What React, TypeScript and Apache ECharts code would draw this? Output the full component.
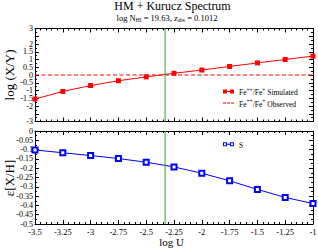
import React, { useEffect, useRef } from "react";
import * as echarts from "echarts";

const logU = [-3.5, -3.25, -3, -2.75, -2.5, -2.25, -2, -1.75, -1.5, -1.25, -1];
const feRatioSim = [-1.55, -1.06, -0.68, -0.37, -0.12, 0.11, 0.32, 0.55, 0.78, 1.0, 1.22];
const feRatioObs = 0;
const sAbund = [-0.102, -0.117, -0.132, -0.148, -0.168, -0.193, -0.227, -0.268, -0.314, -0.357, -0.39];
const logUBest = -2.33;
const topRange = [-3, 3];
const bottomRange = [-0.5, 0];
const titleText = "HM + Kurucz Spectrum";
const nHI = "19.63";
const zAbs = "0.1012";
const simName = "Fe++/Fe+ Simulated";
const obsName = "Fe++/Fe+ Observed";
const sName = "S";

const FONT = "'Liberation Serif', 'Times New Roman', serif";
const GREEN = "#36a336";

export default function App() {
  const ref = useRef<HTMLDivElement>(null);
  useEffect(() => {
    if (!ref.current) return;
    const chart = echarts.init(ref.current, null, { renderer: "svg" });
    const xMin = logU[0];
    const xMax = logU[logU.length - 1];
    const mkX = (grid: number, pos: "top" | "bottom", labels: boolean) => ({
      type: "value",
      gridIndex: grid,
      position: pos,
      min: xMin,
      max: xMax,
      interval: 0.25,
      axisLine: { show: true, onZero: false, lineStyle: { color: "#000", width: 1 } },
      axisTick: { show: true, inside: true, length: 4, lineStyle: { color: "#000" } },
      minorTick: { show: true, splitNumber: 5, length: 2, lineStyle: { color: "#000" } },
      splitLine: { show: false },
      axisLabel: {
        show: labels,
        fontSize: 8.5,
        fontFamily: FONT,
        color: "#000",
        margin: 3,
        showMinLabel: true,
        showMaxLabel: true,
        hideOverlap: false,
      },
    });
    const mkY = (grid: number, pos: "left" | "right", labels: boolean, min: number, max: number, interval: number) => ({
      type: "value",
      gridIndex: grid,
      position: pos,
      min,
      max,
      interval,
      axisLine: { show: true, onZero: false, lineStyle: { color: "#000", width: 1 } },
      axisTick: { show: true, inside: true, length: 4, lineStyle: { color: "#000" } },
      minorTick: { show: true, splitNumber: 2, length: 2, lineStyle: { color: "#000" } },
      splitLine: { show: false },
      axisLabel: {
        show: labels,
        fontSize: 8,
        fontFamily: FONT,
        color: "#000",
        margin: 2,
        showMinLabel: true,
        showMaxLabel: true,
        hideOverlap: false,
      },
    });
    const legendRich = {
      n: { fontSize: 7.5, fontFamily: FONT, color: "#000", lineHeight: 10, verticalAlign: "bottom" },
      sup: { fontSize: 5.5, fontFamily: FONT, color: "#000", lineHeight: 3, verticalAlign: "top" },
    };
    const fmtLegend = (name: string) => {
      const m = name.match(/^Fe\+\+\/Fe\+ (.*)$/);
      if (m) return `{n|Fe}{sup|++}{n|/Fe}{sup|+}{n| ${m[1]}}`;
      return `{n|${name}}`;
    };
    const vLine = (xi: number, yi: number, range: number[]) => ({
      name: "logU-best",
      type: "line",
      xAxisIndex: xi,
      yAxisIndex: yi,
      data: [
        [logUBest, range[0]],
        [logUBest, range[1]],
      ],
      symbol: "none",
      silent: true,
      lineStyle: { color: GREEN, width: 1 },
      itemStyle: { color: GREEN },
      z: 4,
    });
    chart.setOption({
      animation: false,
      backgroundColor: "#fff",
      grid: [
        { left: 35, right: 5, top: 28.5, height: 93, containLabel: false, outerBoundsMode: "none" },
        { left: 35, right: 5, top: 131, height: 93, containLabel: false, outerBoundsMode: "none" },
      ],
      xAxis: [mkX(0, "bottom", false), mkX(0, "top", false), mkX(1, "bottom", true), mkX(1, "top", false)],
      yAxis: [
        mkY(0, "left", true, topRange[0], topRange[1], 0.5),
        mkY(0, "right", false, topRange[0], topRange[1], 0.5),
        mkY(1, "left", true, bottomRange[0], bottomRange[1], 0.05),
        mkY(1, "right", false, bottomRange[0], bottomRange[1], 0.05),
      ],
      legend: [
        {
          orient: "vertical",
          left: 223,
          top: 86.5,
          padding: 0,
          itemGap: 1.6,
          itemWidth: 11,
          itemHeight: 4,
          formatter: fmtLegend,
          textStyle: { rich: legendRich, fontSize: 7.5, fontFamily: FONT },
          data: [
            {
              name: simName,
              icon: "path://M0,0h4v4h-4z M4,1.5h3v1h-3z M7,0h4v4h-4z",
              itemStyle: { color: "#ff0000", borderWidth: 0 },
            },
            {
              name: obsName,
              icon: "path://M0,0 M11,4 M0,1.5h3v1h-3z M4,1.5h3v1h-3z M8,1.5h3v1h-3z",
              itemStyle: { color: "#ff0000", borderWidth: 0 },
            },
          ],
        },
        {
          orient: "vertical",
          left: 223,
          top: 141.3,
          padding: 0,
          itemWidth: 11,
          itemHeight: 4,
          formatter: fmtLegend,
          textStyle: { rich: legendRich, fontSize: 7.5, fontFamily: FONT },
          data: [
            {
              name: sName,
              icon: "path://M0,0h4v4h-4z M1,1v2h2v-2z M4,1.5h3v1h-3z M7,0h4v4h-4z M8,1v2h2v-2z",
              itemStyle: { color: "#0000ff", borderWidth: 0 },
            },
          ],
        },
      ],
      series: [
        {
          name: obsName,
          type: "line",
          xAxisIndex: 0,
          yAxisIndex: 0,
          data: [
            [xMin, feRatioObs],
            [xMax, feRatioObs],
          ],
          symbol: "none",
          lineStyle: { color: "#ff0000", width: 1, type: [4, 2.5] },
          itemStyle: { color: "#ff0000" },
          z: 2,
        },
        vLine(0, 0, topRange),
        vLine(2, 2, bottomRange),
        {
          name: simName,
          type: "line",
          xAxisIndex: 0,
          yAxisIndex: 0,
          data: logU.map((x, i) => [x, feRatioSim[i]]),
          symbol: "rect",
          symbolSize: 5,
          lineStyle: { color: "#ff0000", width: 1 },
          itemStyle: { color: "#ff0000" },
          z: 3,
        },
        {
          name: sName,
          type: "line",
          xAxisIndex: 2,
          yAxisIndex: 2,
          data: logU.map((x, i) => [x, sAbund[i]]),
          symbol: "emptyRect",
          symbolSize: 5,
          lineStyle: { color: "#0000ff", width: 1 },
          itemStyle: { color: "#0000ff", borderWidth: 1 },
          z: 3,
        },
      ],
      graphic: [
        {
          type: "text",
          x: 172.5,
          y: 6,
          style: {
            text: titleText,
            font: `12px ${FONT}`,
            fill: "#000",
            textAlign: "center",
            textVerticalAlign: "middle",
          },
        },
        {
          type: "text",
          x: 167,
          y: 18,
          style: {
            text: `{n|log N}{sub|HI}{n| = ${nHI}, z}{sub|abs}{n| = ${zAbs}}`,
            textAlign: "center",
            textVerticalAlign: "middle",
            rich: {
              n: { fontSize: 8.5, fontFamily: FONT, fill: "#000", lineHeight: 10, verticalAlign: "top" },
              sub: { fontSize: 5.5, fontFamily: FONT, fill: "#000", lineHeight: 3, verticalAlign: "bottom" },
            },
          },
        },
        {
          type: "text",
          x: 9,
          y: 75,
          rotation: Math.PI / 2,
          style: {
            text: "log (X/Y)",
            font: `13px ${FONT}`,
            fill: "#000",
            textAlign: "center",
            textVerticalAlign: "middle",
          },
        },
        {
          type: "text",
          x: 9,
          y: 178,
          rotation: Math.PI / 2,
          style: {
            text: "ε[X/H]",
            font: `13px ${FONT}`,
            fill: "#000",
            textAlign: "center",
            textVerticalAlign: "middle",
          },
        },
        {
          type: "text",
          x: 171.5,
          y: 242,
          style: {
            text: "log U",
            font: `11px ${FONT}`,
            fill: "#000",
            textAlign: "center",
            textVerticalAlign: "middle",
          },
        },
      ],
    });
    return () => chart.dispose();
  }, []);
  return (
    <div
      ref={ref}
      style={{ position: "absolute", left: 0, top: 0, width: 318, height: 249 }}
    />
  );
}
